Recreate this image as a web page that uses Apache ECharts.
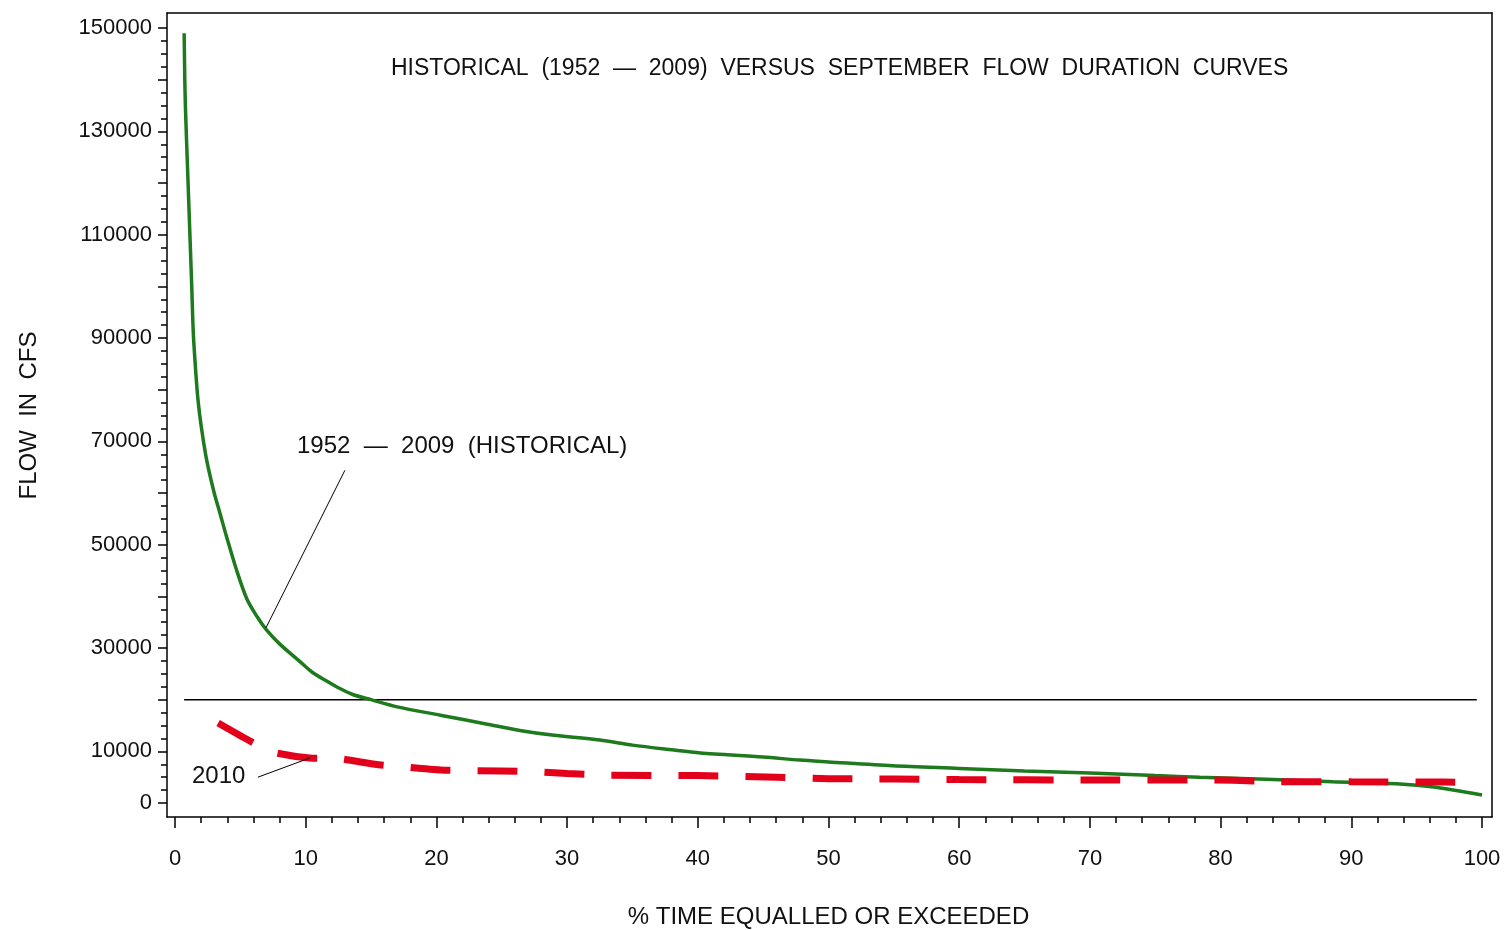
<!DOCTYPE html>
<html>
<head>
<meta charset="utf-8">
<script src="https://cdn.jsdelivr.net/npm/echarts@6/dist/echarts.min.js"></script>
<style>
  html, body { margin: 0; padding: 0; background: #fff; }
  #chart { width: 1505px; height: 930px; }
</style>
</head>
<body>
<div id="chart"></div>
<script>
// % time equalled or exceeded vs flow (cfs)
const historicalPct = [0.7, 0.75, 0.8, 1.0, 1.28, 1.4, 1.6, 1.76, 2.0, 2.42, 3.0, 3.44, 3.95, 4.72, 5.5, 6.3, 7.0, 8.0, 9.5, 10.5, 11.6, 12.5, 13.6, 15, 17, 20.3, 24, 26.5, 28.7, 32.5, 35, 38, 40.2, 45, 47.8, 50, 54.9, 60, 65, 70, 75, 78.4, 83.5, 88.6, 93.7, 96.3, 100];
const historicalFlow = [149000, 140000, 134500, 120000, 100000, 91000, 83000, 78000, 73000, 66400, 60000, 56100, 51500, 45000, 39500, 36000, 33500, 30800, 27500, 25300, 23600, 22300, 21000, 20000, 18600, 17000, 15200, 14000, 13200, 12200, 11200, 10300, 9700, 8900, 8300, 7950, 7200, 6700, 6200, 5800, 5300, 5000, 4600, 4100, 3700, 3100, 1550];

const sep2010Pct = [3.3, 5.6, 7.4, 10.3, 12.5, 15.3, 17.4, 20.3, 25, 28, 30, 33, 40, 46, 50, 55, 60, 70, 78, 81, 84, 90, 97, 100];
const sep2010Flow = [15500, 12200, 9900, 8700, 8600, 7500, 7000, 6400, 6200, 6000, 5700, 5400, 5300, 5000, 4700, 4650, 4550, 4450, 4450, 4400, 4150, 4100, 4050, 3900];

// reference line at 20000 cfs
const refLinePct = [0.7, 99.6];
const refLineFlow = [20000, 20000];

// leader lines for the two curve labels
const histLeader = [[13.0, 64400], [6.96, 33900]];
const leader2010 = [[6.35, 5000], [10.3, 8700]];

const titleText = 'HISTORICAL  (1952  \u2014  2009)  VERSUS  SEPTEMBER  FLOW  DURATION  CURVES';
const histLabel = '1952  \u2014  2009  (HISTORICAL)';
const label2010 = '2010';

const zip = (xs, ys) => xs.map((x, i) => [x, ys[i]]);

const font = 'Liberation Sans, Arial, sans-serif';
const frameLine = { show: true, onZero: false, lineStyle: { color: '#000', width: 1.5 } };
const frameAxis = (extra) => Object.assign({
  type: 'value', gridIndex: 1, min: 0, max: 1,
  axisLine: frameLine, axisTick: { show: false }, axisLabel: { show: false }, splitLine: { show: false }
}, extra);

const chart = echarts.init(document.getElementById('chart'));

chart.setOption({
  backgroundColor: '#fff',
  animation: false,
  title: {
    text: titleText,
    left: 386,
    top: 52,
    textStyle: { fontFamily: font, fontSize: 23, fontWeight: 'normal', color: '#111' }
  },
  grid: [
    // data area
    { left: 175, right: 23, top: 28, bottom: 127, containLabel: false, outerBoundsMode: 'none' },
    // outer frame
    { left: 167, right: 13, top: 13, bottom: 113, containLabel: false, outerBoundsMode: 'none' }
  ],
  xAxis: [{
    type: 'value',
    min: 0, max: 100, interval: 10,
    offset: 14,
    name: '% TIME EQUALLED OR EXCEEDED',
    nameLocation: 'middle',
    nameGap: 88,
    nameTextStyle: { fontFamily: font, fontSize: 24, color: '#111' },
    axisLine: { show: false, onZero: false },
    axisTick: { show: true, length: 11, lineStyle: { color: '#000', width: 1.5 } },
    minorTick: { show: true, splitNumber: 5, length: 6, lineStyle: { color: '#000', width: 1.5 } },
    axisLabel: { margin: 31, fontFamily: font, fontSize: 22, color: '#111' },
    splitLine: { show: false }
  },
  frameAxis({ position: 'bottom' }),
  frameAxis({ position: 'top' })],
  yAxis: [{
    type: 'value',
    min: 0, max: 150000, interval: 10000,
    offset: 8,
    name: 'FLOW  IN  CFS',
    nameLocation: 'middle',
    nameGap: 126,
    nameTextStyle: { fontFamily: font, fontSize: 24, color: '#111' },
    axisLine: { show: false, onZero: false },
    axisTick: { show: true, length: 9, lineStyle: { color: '#000', width: 1.5 } },
    minorTick: { show: true, splitNumber: 4, length: 6, lineStyle: { color: '#000', width: 1.5 } },
    axisLabel: {
      margin: 15, fontFamily: font, fontSize: 22, color: '#111',
      formatter: v => (v === 0 || (v / 10000) % 2 === 1) ? String(v) : ''
    },
    splitLine: { show: false }
  },
  frameAxis({ position: 'left' }),
  frameAxis({ position: 'right' })],
  graphic: [
    { type: 'text', left: 297, top: 434,
      style: { text: histLabel, font: '24px ' + font, fill: '#111' } },
    { type: 'text', left: 192, top: 764,
      style: { text: label2010, font: '24px ' + font, fill: '#111' } }
  ],
  series: [
    {
      name: '20000 cfs', type: 'line', silent: true, symbol: 'none',
      data: zip(refLinePct, refLineFlow),
      lineStyle: { color: '#000', width: 1.5 }
    },
    {
      name: '1952 - 2009 (HISTORICAL)', type: 'line', silent: true, symbol: 'none', smooth: 0.3,
      data: zip(historicalPct, historicalFlow),
      lineStyle: { color: '#1d7a1d', width: 3.5 }
    },
    {
      name: '2010', type: 'line', silent: true, symbol: 'none', smooth: 0.2,
      data: zip(sep2010Pct, sep2010Flow),
      lineStyle: { color: '#e3001b', width: 7, type: [40, 27], cap: 'butt' }
    },
    {
      name: 'leader hist', type: 'line', silent: true, symbol: 'none',
      data: histLeader, lineStyle: { color: '#000', width: 1 }
    },
    {
      name: 'leader 2010', type: 'line', silent: true, symbol: 'none',
      data: leader2010, lineStyle: { color: '#000', width: 1 }
    }
  ]
});
</script>
</body>
</html>
